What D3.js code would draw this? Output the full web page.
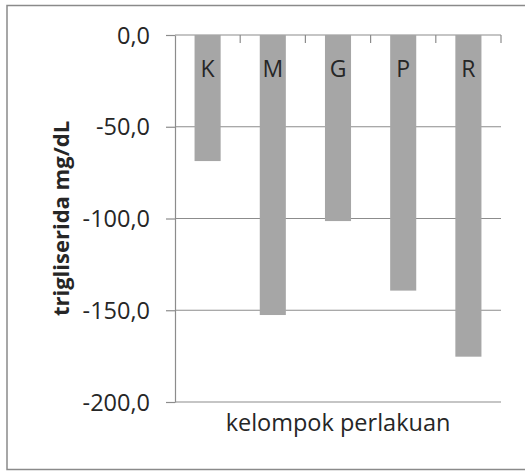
<!DOCTYPE html>
<html>
<head>
<meta charset="utf-8">
<script src="https://cdn.jsdelivr.net/npm/d3@7"></script>
<style>
  html, body { margin: 0; padding: 0; background: #fff; }
  svg { display: block; }
  text { font-family: "Open Sans", "Noto Sans", sans-serif; fill: #262626; }
</style>
</head>
<body>
<svg id="chart" width="525" height="471"></svg>
<script>
const categories = ["K", "M", "G", "P", "R"];
const values = [-68.7, -152.6, -101.4, -139.3, -175.3];
const yTicks = [0, -50, -100, -150, -200];
const yTitle = "trigliserida mg/dL";
const xTitle = "kelompok perlakuan";

const svg = d3.select("#chart");
const plot = { left: 175, right: 501, top: 35, bottom: 402 };
const gridColor = "#8c8c8c";

// outer frame
svg.append("rect")
    .attr("x", 7).attr("y", 5.5).attr("width", 530).attr("height", 464)
    .attr("fill", "#fff").attr("stroke", "#8a8a8a").attr("stroke-width", 1.5);

const x = d3.scaleBand()
    .domain(categories)
    .range([plot.left, plot.right])
    .paddingInner(0.6)
    .paddingOuter(0.3);

const y = d3.scaleLinear()
    .domain([-200, 0])
    .range([plot.bottom, plot.top]);

const locale = d3.formatLocale({ decimal: ",", thousands: ".", grouping: [3], currency: ["", ""], minus: "-" });
const fmt = locale.format(".1f");

// gridlines
svg.append("g").selectAll("line").data(yTicks).join("line")
    .attr("x1", plot.left).attr("x2", plot.right)
    .attr("y1", d => y(d)).attr("y2", d => y(d))
    .attr("stroke", gridColor).attr("stroke-width", 1.2);

// bars
svg.append("g").selectAll("rect").data(categories).join("rect")
    .attr("x", d => x(d))
    .attr("width", x.bandwidth())
    .attr("y", y(0))
    .attr("height", (d, i) => y(values[i]) - y(0))
    .attr("fill", "#a6a6a6");

// y axis
const yAxis = svg.append("g")
    .attr("transform", `translate(${plot.left},0)`)
    .call(d3.axisLeft(y).tickValues(yTicks).tickFormat(fmt).tickSize(9).tickSizeOuter(0).tickPadding(16));
yAxis.select(".domain").attr("stroke", gridColor).attr("stroke-width", 1.2);
yAxis.selectAll(".tick line").attr("stroke", gridColor).attr("stroke-width", 1.2);
yAxis.selectAll(".tick text")
    .style("font-family", "'Open Sans', sans-serif")
    .style("font-size", "23.5px")
    .attr("dy", "0.35em")
    .attr("fill", "#2e2e2e");

// category axis along zero line, ticks between bands
const bounds = d3.range(1, categories.length + 1).map(i => plot.left + i * x.step());
svg.append("g").selectAll("line").data(bounds).join("line")
    .attr("x1", d => d).attr("x2", d => d)
    .attr("y1", y(0)).attr("y2", y(0) + 8)
    .attr("stroke", gridColor).attr("stroke-width", 1.2);

// category labels inside bars
svg.append("g").selectAll("text").data(categories).join("text")
    .attr("x", d => x(d) + x.bandwidth() / 2)
    .attr("y", y(0) + 42)
    .attr("text-anchor", "middle")
    .style("font-size", "23px")
    .text(d => d);

// axis titles
svg.append("text")
    .attr("transform", `translate(68.5,${(plot.top + plot.bottom) / 2}) rotate(-90)`)
    .attr("text-anchor", "middle")
    .style("font-size", "22px")
    .style("font-weight", "bold")
    .attr("fill", "#111")
    .text(yTitle);

svg.append("text")
    .attr("x", (plot.left + plot.right) / 2)
    .attr("y", 431)
    .attr("text-anchor", "middle")
    .style("font-size", "23.5px")
    .attr("fill", "#111")
    .text(xTitle);
</script>
</body>
</html>
